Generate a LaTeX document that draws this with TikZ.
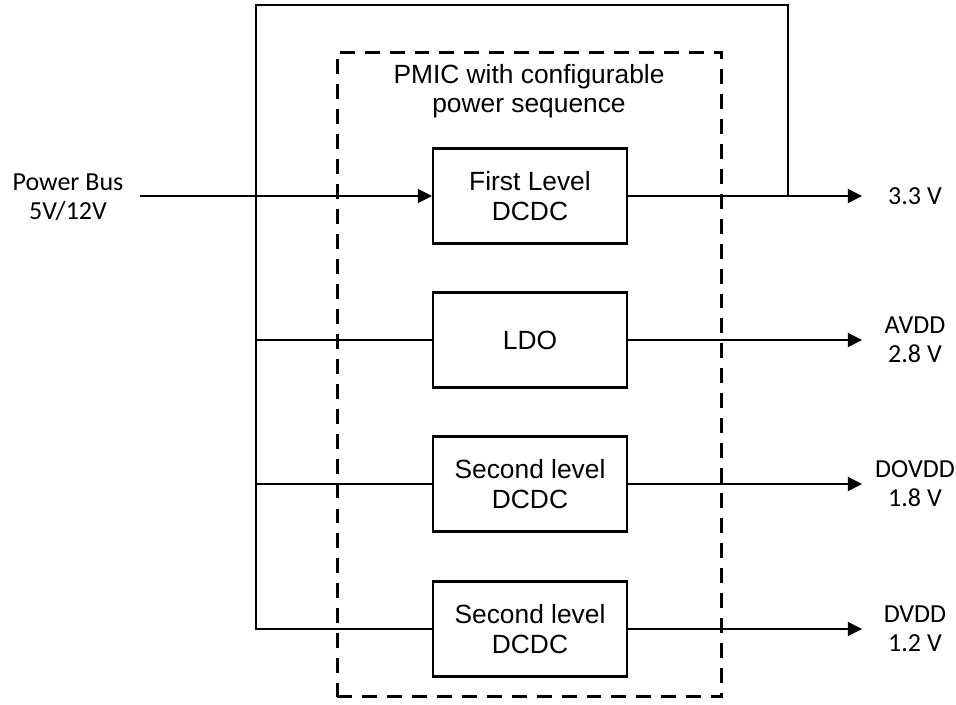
\documentclass[tikz,border=0pt]{standalone}
\usepackage{fontspec}
\setmainfont{Liberation Sans}
\newfontfamily\sidefont{Carlito}
\usetikzlibrary{arrows.meta, positioning}

\begin{document}
\begin{tikzpicture}[x=0.02cm, y=-0.02cm, line width=0.75pt, >={Triangle[length=8pt,width=8pt]}]
    \tikzstyle{block}=[draw, line width=1.2pt, minimum width=3.88cm, minimum height=1.9cm, align=center, font=\fontsize{15}{17}\selectfont]
    \tikzstyle{pmic}=[draw, line width=1.7pt, dash pattern=on 8.5pt off 5.7pt, minimum width=7.7cm, minimum height=12.9cm]
    \tikzstyle{side}=[align=center, inner sep=0pt, font=\sidefont\fontsize{14.8}{16.5}\selectfont]

    \useasboundingbox (0,0) rectangle (956,704);

    % The PMIC frame and its title
    \node[pmic] (chip) at (529.5,374.5) {};
    \node[align=center, font=\fontsize{15}{16.8}\selectfont] (title) at (529,91) {PMIC with configurable\\power sequence};

    % Draw the regulators
    \node[block] (dc1) at (530,196) {First Level\\DCDC};
    \node[block] (ldo) at (530,340) {LDO};
    \node[block] (dc2) at (530,484) {Second level\\DCDC};
    \node[block] (dc3) at (530,629) {Second level\\DCDC};

    % Input from the bus
    \node[side] (bus) at (68,197) {Power Bus\\5V/12V};
    \coordinate (in) at (140,196);
    \draw[->] (in) -- (dc1.west);

    % Outputs
    \coordinate (tip) at (862,0);
    \coordinate (lab) at (915,0);
    \foreach \name/\txt in {dc1/{3.3 V}, ldo/{AVDD\\2.8 V}, dc2/{DOVDD\\1.8 V}, dc3/{DVDD\\1.2 V}}
    {
        \draw[->] (\name.east) -- (\name.east -| tip);
        \node[side] (\name-v) at (\name.east -| lab) {\txt};
    }

    % 3.3 V fed back to the other regulators
    \coordinate (tap) at (788,0);
    \coordinate (feed) at (256,5);
    \draw (dc1.east -| tap) |- (feed) |- (dc3.west);
    \foreach \name in {ldo,dc2}
        \draw (feed |- \name.west) -- (\name.west);
\end{tikzpicture}
\end{document}
